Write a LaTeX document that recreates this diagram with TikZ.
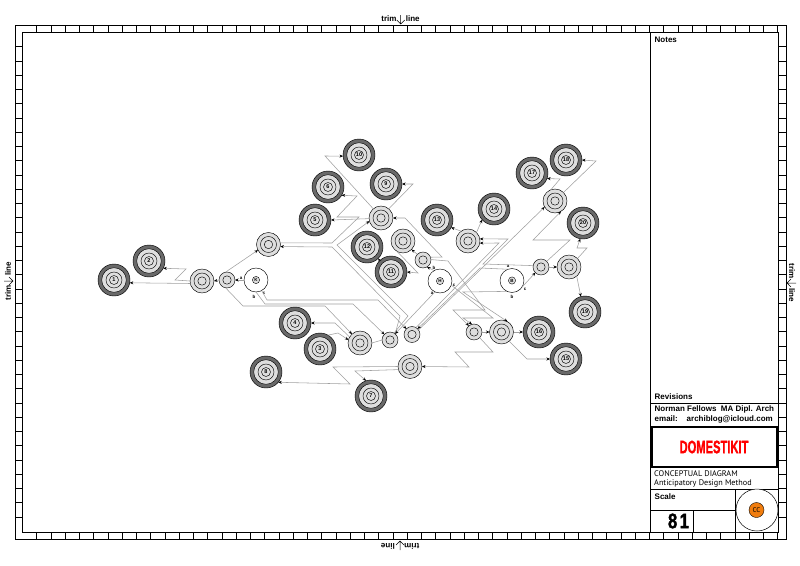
\documentclass[tikz,border=0pt]{standalone}
\usepackage{fontspec}
\setmainfont{Liberation Sans}
\newfontfamily\dinfont{PT Sans}
\newfontfamily\heavyfont[BoldFont={Liberation Sans Bold},BoldFeatures={FakeBold=1.6}]{Liberation Sans}
\usepackage{xcolor}
\usepackage{tikz}
\usetikzlibrary{arrows.meta}
\definecolor{ring-dark}{RGB}{105,105,105}
\definecolor{ring-light}{RGB}{222,222,222}
\definecolor{wire-grey}{RGB}{160,160,160}
\definecolor{cc-orange}{RGB}{240,125,15}
\tikzstyle{wire}=[draw=wire-grey, line width=.55pt, line join=miter, -{Stealth[black,length=3.5pt,width=3pt]}]
\tikzstyle{plainwire}=[draw=wire-grey, line width=.55pt]
\tikzstyle{hub}=[circle, draw, line width=.45pt, inner sep=0pt, outer sep=0pt]
\tikzstyle{target}=[hub, fill=ring-dark, minimum size=32pt, font=\bfseries\fontsize{5.5}{5.5}\selectfont,
	path picture={\draw[fill=ring-light, line width=.45pt] (path picture bounding box.center) circle (12.3pt);
		\draw[line width=.45pt] (path picture bounding box.center) circle (8pt);
		\draw[line width=.45pt] (path picture bounding box.center) circle (4.5pt);}]
\tikzstyle{junction}=[hub, fill=ring-light, minimum size=24pt,
	path picture={\draw[line width=.45pt] (path picture bounding box.center) circle (8pt);
		\draw[line width=.45pt] (path picture bounding box.center) circle (4.2pt);}]
\tikzstyle{relay}=[hub, fill=ring-light, minimum size=16pt,
	path picture={\draw[line width=.45pt] (path picture bounding box.center) circle (4.2pt);}]
\tikzstyle{source}=[hub, fill=white, minimum size=24pt, font=\bfseries\fontsize{4.5}{4.5}\selectfont,
	path picture={\draw[fill=ring-light, line width=.4pt] (path picture bounding box.center) circle (3.6pt);}]
\tikzstyle{tinytag}=[inner sep=0pt, font=\bfseries\fontsize{4.5}{4.5}\selectfont]
\tikzstyle{sheetlabel}=[anchor=west, inner sep=0pt, font=\bfseries\fontsize{8}{8}\selectfont]
\tikzstyle{dinlabel}=[anchor=west, inner sep=0pt, font=\dinfont\fontsize{8.2}{9}\selectfont]
\newcommand{\trimmark}[3]{
	\begin{scope}[shift={(#1,#2)},rotate=#3]
		\node[transform shape, anchor=east, inner sep=0pt, font=\bfseries\fontsize{8}{8}\selectfont] at (-4,4) {trim};
		\node[transform shape, anchor=west, inner sep=0pt, font=\bfseries\fontsize{8}{8}\selectfont] at (5,4) {line};
		\draw[line width=.5pt] (0,0)--(0,9) (-4,5)--(0,9)--(4,5);
	\end{scope}}
\begin{document}
\begin{tikzpicture}[x=1pt,y=-1pt]
	\useasboundingbox (0,0) rectangle (800,565);
	% sheet frame
	\draw[line width=.5pt] (15,25) rectangle (786,539);
	\draw[line width=.5pt] (22,32) rectangle (778,532);
	\foreach \i in {0,...,52} {
		\draw[line width=.45pt] ({36.7+14.25*\i},25)--++(0,7);
		\draw[line width=.45pt] ({36.7+14.25*\i},532)--++(0,7);
	}
	\foreach \i in {0,...,33} {
		\draw[line width=.45pt] (15,{46.7+14.25*\i})--++(7,0);
		\draw[line width=.45pt] (778,{46.7+14.25*\i})--++(8,0);
	}
	\trimmark{400.7}{15}{0}
	\trimmark{400}{550}{180}
	\trimmark{4}{281}{90}
	\trimmark{796}{283}{-90}
	% title block
	\draw[line width=.5pt] (650,32)--(650,532);
	\draw[line width=.5pt] (650,403)--(778,403);
	\draw[line width=.5pt] (650,489)--(778,489);
	\draw[line width=.5pt] (650,510)--(735.5,510);
	\draw[line width=.5pt] (693,510)--(693,532);
	\draw[line width=.5pt] (735.5,489)--(735.5,532);
	\draw[line width=2.6pt] (651.5,427) rectangle (777.5,467);
	\node[sheetlabel] (notes) at (654.5,40) {Notes};
	\node[sheetlabel] (revisions) at (654.5,396.5) {Revisions};
	\node[sheetlabel] (author) at (654.5,409.5) {Norman Fellows\ \ MA Dipl. Arch};
	\node[sheetlabel] (email) at (654.5,419) {email:\ \ \ \ archiblog@icloud.com};
	\node[inner sep=0pt, text=red, font=\heavyfont\bfseries\fontsize{18}{18}\selectfont, xscale=.62] (title) at (714,447) {DOMESTIKIT};
	\node[dinlabel] (kind) at (654,473.5) {CONCEPTUAL DIAGRAM};
	\node[dinlabel] (method) at (654,483.5) {Anticipatory Design Method};
	\node[sheetlabel] (scalelabel) at (654.5,497) {Scale};
	\node[inner sep=0pt, font=\heavyfont\bfseries\fontsize{21}{21}\selectfont, xscale=.8] (scalevalue) at (678.5,521) {8\hspace{3pt}1};
	\node[circle, draw, fill=white, line width=.5pt, minimum size=42pt, inner sep=0pt] (badge) at (757,510) {};
	\node[circle, draw, fill=cc-orange, line width=.4pt, minimum size=15pt, inner sep=0pt, font=\dinfont\fontsize{7}{7}\selectfont] (ccmark) at (756.5,510) {CC};
	% targets
	\node[target] (n1) at (114,280) {1};
	\node[target] (n2) at (149,261) {2};
	\node[target] (n3) at (320,349) {3};
	\node[target] (n4) at (295,323) {4};
	\node[target] (n5) at (315,220) {5};
	\node[target] (n6) at (328,187) {6};
	\node[target] (n7) at (371,396) {7};
	\node[target] (n8) at (266,372) {8};
	\node[target] (n9) at (386,184) {9};
	\node[target] (n10) at (359,155) {10};
	\node[target] (n11) at (391,272) {11};
	\node[target] (n12) at (367,247) {12};
	\node[target] (n13) at (437,220) {13};
	\node[target] (n14) at (494,209) {14};
	\node[target] (n15) at (566,359) {15};
	\node[target] (n16) at (539,332) {16};
	\node[target] (n17) at (532,173) {17};
	\node[target] (n18) at (566,160) {18};
	\node[target] (n19) at (585,312) {19};
	\node[target] (n20) at (583,223) {20};
	% junctions
	\node[junction] (j1) at (202,281) {};
	\node[junction] (j2) at (268.5,244.5) {};
	\node[junction] (j3) at (360,343) {};
	\node[junction] (j4) at (403,241) {};
	\node[junction] (j5) at (381,218) {};
	\node[junction] (j6) at (468,241) {};
	\node[junction] (j7) at (555,201) {};
	\node[junction] (j8) at (501.5,332) {};
	\node[junction] (j9) at (569,267) {};
	\node[junction] (j10) at (410,366.5) {};
	% relays
	\node[relay] (s1) at (227,280) {};
	\node[relay] (s2) at (423,260) {};
	\node[relay] (s3) at (412,334.5) {};
	\node[relay] (s4) at (390,340) {};
	\node[relay] (s5) at (474,332) {};
	\node[relay] (s6) at (541,267) {};
	% sources
	\node[source] (k) at (256,280) {K};
	\node[source] (h) at (440,281) {H};
	\node[source] (b) at (512,280.5) {B};
	\node[tinytag] (ka) at (241,278) {a};
	\node[tinytag] (kb) at (254,297) {b};
	\node[tinytag] (kc) at (264,293) {c};
	\node[tinytag] (ha) at (432,293) {a};
	\node[tinytag] (hb) at (434,268) {b};
	\node[tinytag] (hc) at (454,285) {c};
	\node[tinytag] (ba) at (508,266.5) {a};
	\node[tinytag] (bb) at (512,297) {b};
	\node[tinytag] (bc) at (525,289) {c};
	% wires on the left
	\draw[wire] (k.west) -- (s1.east);
	\draw[wire] (s1.west) -- (j1.east);
	\draw[wire] (j1.192) -- (n1.-10);
	\draw[wire] (j1.west) -- (175,280) -- (186,269) -- (n2.-27);
	\draw[wire] (s1.100) -- (j2.208);
	\draw[wire] (s1.-100) -- (243,306) -- (325,306) -- (j3.132);
	\draw[wire] (k.-62) -- (267,300) -- (378,300) -- (s3.135);
	\draw[wire] (k.-90) -- (265,304) -- (353,304) -- (s4.135);
	\draw[wire] (j3.150) -- (335,323) -- (n4.east);
	\draw[wire] (n3.60) -- (338,333) -- (j3.165);
	\draw[plainwire] (j3.east) -- (s4.west);
	% wires in the middle
	\draw[wire] (s4.60) -- (408,316) -- (337,245) -- (j5.195);
	\draw[wire] (s4.50) -- (400,316) -- (332,247) -- (j2.-10);
	\draw[wire] (j2.8) -- (332,243) -- (359,217) -- (337,217) -- (357,196) -- (n6.-31);
	\draw[wire] (j5.183) -- (n5.east);
	\draw[wire] (j5.130) -- (325,156) -- (n10.184);
	\draw[wire] (j5.50) -- (413,184) -- (n9.east);
	\draw[wire] (s2.20) -- (442,257) -- (405,218) -- (j5.east);
	\draw[wire] (s2.135) -- (j4.-45);
	\draw[wire] (j4.-120) -- (418,273) -- (n11.east);
	\draw[wire] (n11.135) -- (n12.-45);
	\draw[wire] (h.120) -- (s2.-60);
	\draw[wire] (h.-115) -- (s4.50);
	\draw[wire] (h.-20) -- (493,318) -- (463,318) -- (s5.105);
	\draw[wire] (s2.3) -- (448,261) -- (485,310) -- (453,310) -- (s5.130);
	\draw[wire] (s5.-45) -- (493,352) -- (455,352) -- (469,367) -- (j10.east);
	\draw[wire] (j10.west) -- (333,367) -- (350,384) -- (n8.-40);
	\draw[wire] (j10.195) -- (355,371) -- (n7.108);
	% wires on the right
	\draw[wire] (s3.35) -- (j7.210);
	\draw[wire] (s3.60) -- (499,243) -- (j6.-10);
	\draw[wire] (b.110) -- (480,268) -- (s3.45);
	\draw[wire] (b.-115) -- (463,292) -- (j8.60);
	\draw[wire] (b.-35) -- (s6.-135);
	\draw[wire] (s6.170) -- (483,264) -- (508,239) -- (j6.10);
	\draw[wire] (j6.125) -- (n13.-28);
	\draw[wire] (j6.45) -- (n14.222);
	\draw[wire] (s6.45) -- (570,240) -- (533,240) -- (j7.-60);
	\draw[wire] (j7.110) -- (560,179) -- (n17.-20);
	\draw[wire] (j7.45) -- (596,161) -- (n18.east);
	\draw[wire] (s6.east) -- (j9.west);
	\draw[wire] (j9.45) -- (587,248) -- (577,248) -- (n20.-100);
	\draw[wire] (j9.-50) -- (n19.105);
	\draw[wire] (s5.east) -- (j8.west);
	\draw[wire] (j8.east) -- (n16.west);
	\draw[wire] (j8.-50) -- (527,359) -- (n15.west);
\end{tikzpicture}
\end{document}
